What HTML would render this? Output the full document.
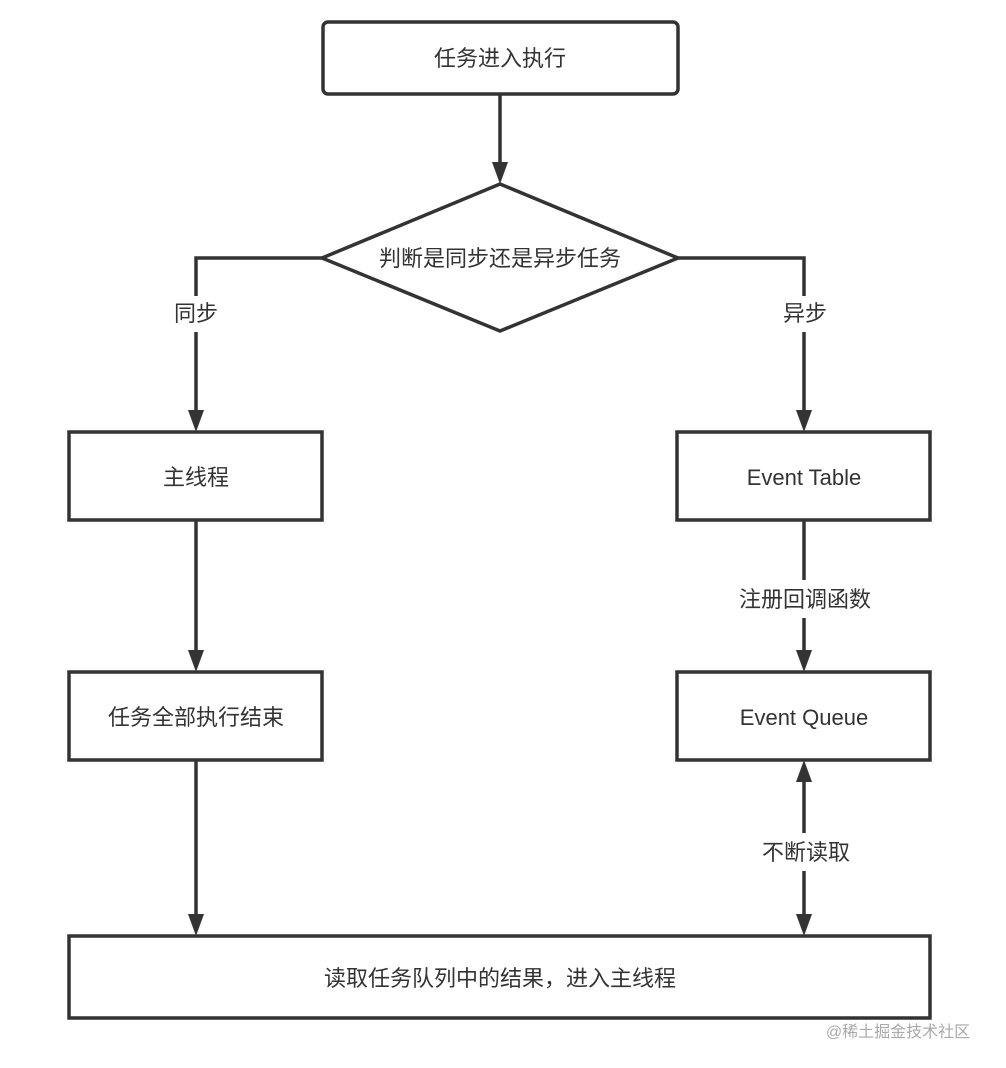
<!DOCTYPE html>
<html><head><meta charset="utf-8"><style>
html,body{margin:0;padding:0;background:#fff;}
svg{display:block;}
text{font-family:"Liberation Sans","Noto Sans CJK SC",sans-serif;fill:#333;}
</style></head><body>
<svg width="1006" height="1068" viewBox="0 0 1006 1068" xmlns="http://www.w3.org/2000/svg">
<defs>
<marker id="ah" markerWidth="16" markerHeight="22" refX="8" refY="22" orient="auto-start-reverse" markerUnits="userSpaceOnUse" viewBox="0 0 16 22">
<path d="M0,0 L16,0 L8,22 Z" fill="#333" transform="rotate(0)"/>
</marker>
</defs>
<g stroke="#333" stroke-width="3.5" fill="none">
<rect x="323" y="22" width="355" height="72" rx="5"/>
<polygon points="500,184 678,258 500,331 322,258" fill="#fff"/>
<rect x="69" y="432" width="253" height="88"/>
<rect x="677" y="432" width="253" height="88"/>
<rect x="69" y="672" width="253" height="88"/>
<rect x="677" y="672" width="253" height="88"/>
<rect x="69" y="936" width="861" height="82"/>
<line x1="500" y1="94" x2="500" y2="164"/>
<polyline points="322,258 196,258 196,412"/>
<polyline points="678,258 804,258 804,412"/>
<line x1="196" y1="520" x2="196" y2="652"/>
<line x1="804" y1="520" x2="804" y2="652"/>
<line x1="196" y1="760" x2="196" y2="916"/>
<line x1="804" y1="780" x2="804" y2="916"/>
</g>
<g fill="#333">
<path d="M492,162 L508,162 L500,184 Z"/>
<path d="M188,410 L204,410 L196,432 Z"/>
<path d="M796,410 L812,410 L804,432 Z"/>
<path d="M188,650 L204,650 L196,672 Z"/>
<path d="M796,650 L812,650 L804,672 Z"/>
<path d="M188,914 L204,914 L196,936 Z"/>
<path d="M796,914 L812,914 L804,936 Z"/>
<path d="M796,782 L812,782 L804,760 Z"/>
</g>
<g fill="#fff">
<rect x="168" y="296" width="56" height="36"/>
<rect x="776" y="296" width="56" height="36"/>
<rect x="726" y="580" width="160" height="38"/>
<rect x="750" y="833" width="110" height="38"/>
</g>
<g font-size="22" text-anchor="middle">
<text x="500" y="66">任务进入执行</text>
<text x="500" y="266">判断是同步还是异步任务</text>
<text x="196" y="321">同步</text>
<text x="805" y="321">异步</text>
<text x="196" y="485">主线程</text>
<text x="804" y="485">Event Table</text>
<text x="805" y="607">注册回调函数</text>
<text x="196" y="725">任务全部执行结束</text>
<text x="804" y="725">Event Queue</text>
<text x="806" y="860">不断读取</text>
<text x="500" y="986">读取任务队列中的结果，进入主线程</text>
</g>
<text x="898" y="1037" font-size="16" text-anchor="middle" style="fill:#aaa">@稀土掘金技术社区</text>
</svg>
</body></html>
